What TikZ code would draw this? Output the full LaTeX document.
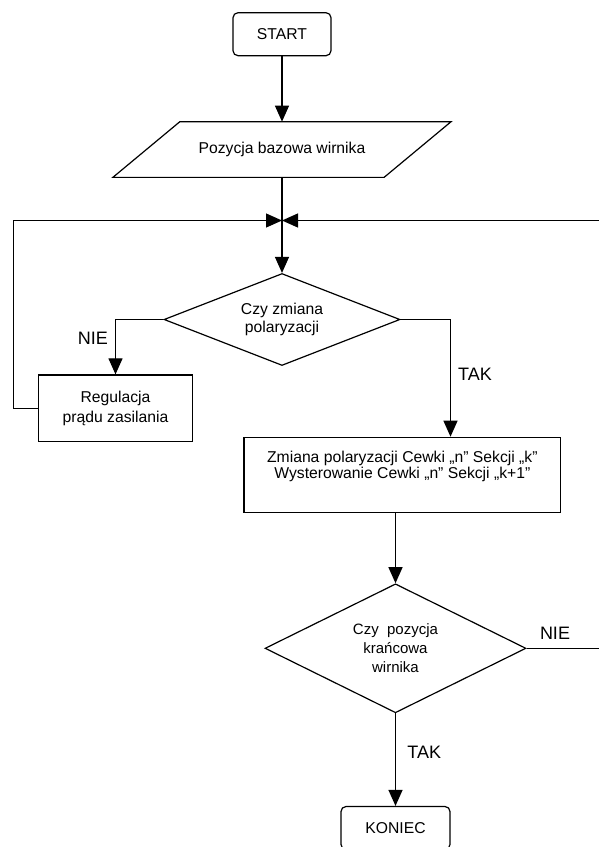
\documentclass[tikz,border=0pt]{standalone}
\usepackage{fontspec}
\setmainfont{Liberation Sans}
\usetikzlibrary{arrows.meta,shapes.geometric}
\begin{document}
\begin{tikzpicture}[x=1pt,y=-1pt,
  line width=1.2pt,
  arr/.style={-{Triangle[length=16pt,width=14pt]}},
  txt/.style={font=\fontsize{15.7}{18}\selectfont, align=center},
  lbl/.style={font=\fontsize{18}{20}\selectfont, inner sep=0pt},
  termbox/.style={draw, rounded corners=5pt, minimum width=98pt, minimum height=43pt, txt},
  procbox/.style={draw, txt, inner sep=0pt},
  decbox/.style={draw, diamond, shape aspect=2.5, inner sep=0pt, txt}]
\fill[white] (0,0) rectangle (599,847);
\useasboundingbox (0,0) rectangle (599,847);
\clip (0,0) rectangle (599,847);

% nodes
\node[termbox] (start) at (282,34.2) {START};
\node[txt, minimum width=270pt, minimum height=54.5pt, inner sep=0pt] (para) at (282,149.5) {Pozycja bazowa wirnika};
\draw ([xshift=33.5pt]para.north west) -- ([xshift=33.5pt]para.north east)
   -- ([xshift=-33.5pt]para.south east) -- ([xshift=-33.5pt]para.south west) -- cycle;

\coordinate (J) at (282,220.5);
\coordinate (lx) at (13.3,0);
\coordinate (rx) at (603,0);
\coordinate (tx) at (450.5,0);

\node[decbox, minimum width=236pt, minimum height=92pt] (d1) at (282,319.5) {Czy zmiana\\polaryzacji};
\node[procbox, minimum width=154.4pt, minimum height=66.7pt, font=\fontsize{15.7}{19.3}\selectfont] (reg) at (115.5,408.3) {Regulacja\\prądu zasilania};
\node[draw, minimum width=316.7pt, minimum height=75.4pt, inner sep=0pt] (big) at (402.35,475) {};
\node[txt, font=\fontsize{15.7}{16}\selectfont] (bigtxt) at (402.35,466.5) {Zmiana polaryzacji Cewki „n” Sekcji „k”\\Wysterowanie Cewki „n” Sekcji „k+1”};
\node[decbox, shape aspect=2, minimum width=261pt, minimum height=129pt, font=\fontsize{15}{18.7}\selectfont] (d2) at (395.5,648.3) {Czy\ \ pozycja\\krańcowa\\wirnika};
\node[termbox, minimum width=109pt] (kon) at (395.5,828) {KONIEC};

% connectors
\draw[arr] (start.south) -- (para.north);
\draw[arr] (para.south) -- (d1.north);
\draw[arr] (reg.west) -- (reg.west -| lx) |- (J);
\draw[arr] (d2.east) -- (d2.east -| rx) |- (J);
\draw[arr] (d1.west) -| (reg.north);
\draw[arr] (d1.east) -| (tx |- big.north);
\draw[arr] (big.south -| d2.north) -- (d2.north);
\draw[arr] (d2.south) -- (kon.north);

% labels
\node[lbl] (nie1) at (93,338) {NIE};
\node[lbl] (tak1) at (475,374) {TAK};
\node[lbl] (nie2) at (555,633.3) {NIE};
\node[lbl] (tak2) at (424.3,752.3) {TAK};
\end{tikzpicture}
\end{document}
